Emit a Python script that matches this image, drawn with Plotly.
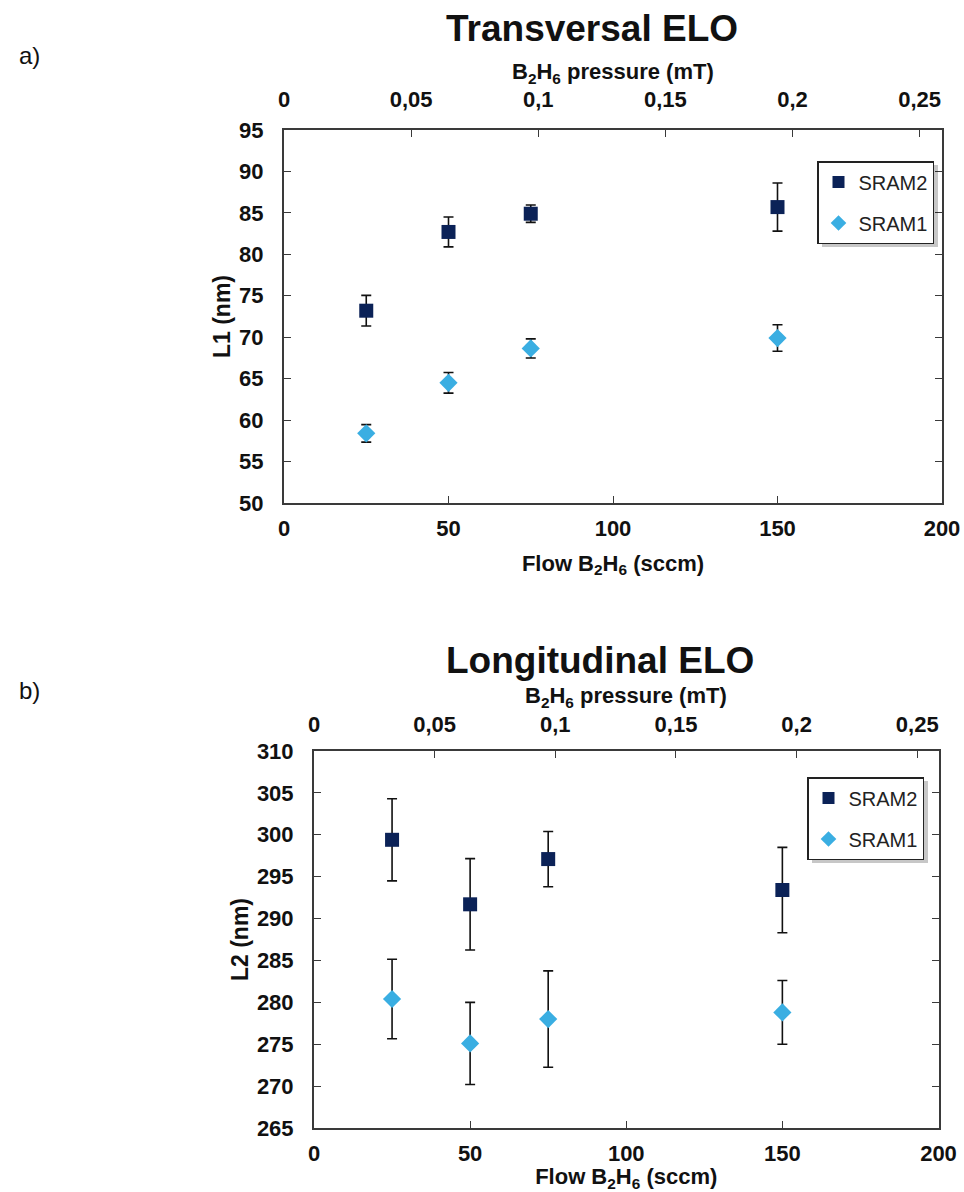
import plotly.graph_objects as go

# ---------------- data ----------------
flow = [25, 50, 75, 150]

# a) Transversal ELO, L1 (nm)
l1_sram2 = [73.2, 82.7, 84.9, 85.7]
l1_sram2_err = [1.85, 1.8, 1.05, 2.9]
l1_sram1 = [58.4, 64.5, 68.65, 69.9]
l1_sram1_err = [1.05, 1.25, 1.15, 1.6]

# b) Longitudinal ELO, L2 (nm)
l2_sram2 = [299.4, 291.7, 297.1, 293.4]
l2_sram2_err = [4.9, 5.45, 3.3, 5.1]
l2_sram1 = [280.4, 275.1, 278.0, 278.8]
l2_sram1_err = [4.75, 4.9, 5.75, 3.8]

series_names = ["SRAM2", "SRAM1"]
flow_ticks = [0, 50, 100, 150, 200]
pressure_ticks = [0, 0.05, 0.1, 0.15, 0.2, 0.25]
l1_ticks = [50, 55, 60, 65, 70, 75, 80, 85, 90, 95]
l2_ticks = [265, 270, 275, 280, 285, 290, 295, 300, 305, 310]

# ---------------- style ----------------
W, H = 964, 1192
FONT = "Liberation Sans, Arial, sans-serif"
C_SRAM2 = "#0b2257"
C_SRAM1 = "#3aaee2"
AXC = "#3a3a3a"
TXT = "#111111"
PRESSURE_TITLE = "B<sub>2</sub>H<sub>6</sub> pressure (mT)"


def px_x(p):
    return p / W


def px_y(p):
    return 1 - p / H


fig = go.Figure()

panels = [
    dict(xa="x", xa_p="x2", ya="y", leg="legend",
         s2=l1_sram2, s2e=l1_sram2_err, s1=l1_sram1, s1e=l1_sram1_err),
    dict(xa="x3", xa_p="x4", ya="y2", leg="legend2",
         s2=l2_sram2, s2e=l2_sram2_err, s1=l2_sram1, s1e=l2_sram1_err),
]

for i, p in enumerate(panels):
    fig.add_trace(go.Scatter(
        x=flow, y=p["s2"], name=series_names[0], mode="markers",
        xaxis=p["xa"], yaxis=p["ya"], legend=p["leg"], legendgroup=f"s2_{i}",
        marker=dict(symbol="square", size=14, color=C_SRAM2),
        error_y=dict(type="data", array=p["s2e"], visible=True,
                     color=TXT, thickness=1.6, width=5),
    ))
    fig.add_trace(go.Scatter(
        x=flow, y=p["s1"], name=series_names[1], mode="markers",
        xaxis=p["xa"], yaxis=p["ya"], legend=p["leg"], legendgroup=f"s1_{i}",
        marker=dict(symbol="diamond", size=14, color=C_SRAM1),
        error_y=dict(type="data", array=p["s1e"], visible=True,
                     color=TXT, thickness=1.6, width=5),
    ))
    # empty helper trace so the secondary (pressure) axis gets drawn
    fig.add_trace(go.Scatter(
        x=pressure_ticks, y=[None] * len(pressure_ticks), mode="markers",
        xaxis=p["xa_p"], yaxis=p["ya"], showlegend=False, hoverinfo="skip",
        marker=dict(opacity=0),
    ))

tickfont = dict(family=FONT, size=22, color=TXT, weight="bold")
titlefont = dict(family=FONT, size=22, color=TXT, weight="bold")


def flow_axis(domain, anchor, standoff):
    return dict(domain=domain, anchor=anchor, range=[0, 200], automargin=False,
                tickvals=flow_ticks, ticks="inside", ticklen=7, tickwidth=1.3,
                tickcolor=AXC, showline=True, linecolor=AXC, linewidth=2,
                showgrid=False, zeroline=False, tickfont=tickfont,
                ticklabelstandoff=5,
                title=dict(text="Flow B<sub>2</sub>H<sub>6</sub> (sccm)",
                           font=titlefont, standoff=standoff))


def pressure_axis(over, anchor, lblstandoff):
    return dict(overlaying=over, anchor=anchor, side="top", range=[0, 0.2588],
                automargin=False,
                tickvals=pressure_ticks, ticks="inside", ticklen=7, tickwidth=1.3,
                tickcolor=AXC, showline=True, linecolor=AXC, linewidth=2,
                showgrid=False, zeroline=False, tickfont=tickfont,
                ticklabelstandoff=lblstandoff)


def val_axis(domain, anchor, rng, tv, title):
    return dict(domain=domain, anchor=anchor, range=rng, tickvals=tv,
                automargin=False,
                ticks="inside", ticklen=7, tickwidth=1.3, tickcolor=AXC,
                showline=True, mirror="ticks", linecolor=AXC, linewidth=2,
                showgrid=False, zeroline=False, tickfont=tickfont,
                ticklabelstandoff=14,
                title=dict(text=title,
                           font=dict(family=FONT, size=23, color=TXT, weight="bold"),
                           standoff=2))


top_x = [px_x(284), px_x(942)]
top_y = [px_y(503), px_y(130)]
bot_x = [px_x(314), px_x(938.5)]
bot_y = [px_y(1128), px_y(751)]

legend_style = dict(bgcolor="white", bordercolor="#222222", borderwidth=1.5,
                    font=dict(family=FONT, size=20, color="#222222"),
                    xanchor="right", yanchor="top", itemsizing="constant",
                    tracegroupgap=12, itemwidth=30)

LEG_W, LEG_H = 116, 82
legend_boxes = [(934, 161), (924, 777)]

fig.update_layout(
    width=W, height=H,
    margin=dict(l=0, r=0, t=0, b=0, autoexpand=False),
    paper_bgcolor="white", plot_bgcolor="white",
    separators=", ",
    showlegend=True,
    xaxis=flow_axis(top_x, "y", 15),
    xaxis2=pressure_axis("x", "y", 12),
    yaxis=val_axis(top_y, "x", [50, 95], l1_ticks, "L1 (nm)"),
    xaxis3=flow_axis(bot_x, "y2", 8),
    xaxis4=pressure_axis("x3", "y2", 8),
    yaxis2=val_axis(bot_y, "x3", [265, 310], l2_ticks, "L2 (nm)"),
    legend=dict(x=px_x(legend_boxes[0][0]), y=px_y(legend_boxes[0][1]), **legend_style),
    legend2=dict(x=px_x(legend_boxes[1][0]), y=px_y(legend_boxes[1][1]), **legend_style),
)

# legend shadows
for (xr, yt) in legend_boxes:
    fig.add_shape(type="rect", xref="paper", yref="paper",
                  x0=px_x(xr - LEG_W + 4), x1=px_x(xr + 4),
                  y0=px_y(yt + LEG_H + 4), y1=px_y(yt + 4),
                  fillcolor="rgba(0,0,0,0.22)", line=dict(width=0), layer="above")

annots = [
    ("Transversal ELO", 592, 28, 37, True),
    ("Longitudinal ELO", 600, 660, 37, True),
    (PRESSURE_TITLE, 613, 73, 22, True),
    (PRESSURE_TITLE, 626, 697, 22, True),
    ("a)", 29, 55, 24, False),
    ("b)", 29, 690, 24, False),
]
for text, x, y, size, bold in annots:
    fig.add_annotation(
        text=text, x=px_x(x), y=px_y(y),
        xref="paper", yref="paper", showarrow=False,
        xanchor="center", yanchor="middle",
        font=dict(family=FONT, size=size, color=TXT,
                  weight="bold" if bold else "normal"))

fig.write_html(
    "out.html",
    config={"displayModeBar": False},
    post_script="document.body.style.margin='0';"
                "document.body.style.overflow='hidden';",
)
